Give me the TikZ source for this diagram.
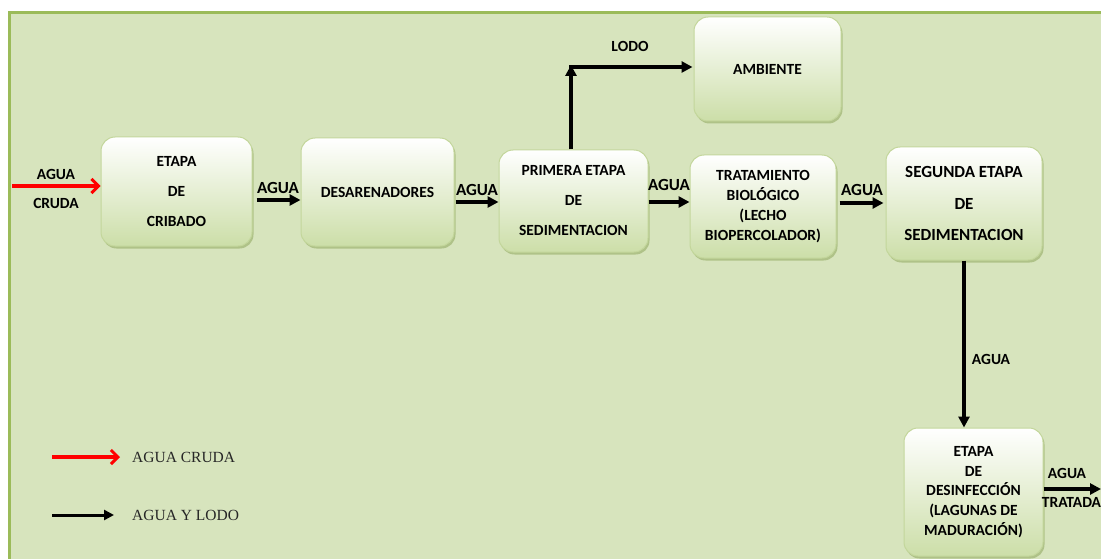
\documentclass[tikz,border=0pt]{standalone}
\usepackage{fontspec}
\setmainfont{Liberation Serif}
\newfontfamily\carlito{Carlito}
\usetikzlibrary{arrows.meta,shadows}
\definecolor{panelfill}{HTML}{D7E4BD}
\definecolor{panelborder}{HTML}{9BBB59}
\definecolor{boxborder}{HTML}{C3D69B}
\definecolor{boxbottom}{HTML}{CCDEA8}
\definecolor{shadowgreen}{HTML}{7F9A48}
\begin{document}
\begin{tikzpicture}[x=1pt,y=-1pt,
  box/.style={rounded corners=14pt, draw=boxborder, line width=1pt,
    top color=white, bottom color=boxbottom,
    drop shadow={shadow xshift=1.5pt, shadow yshift=-2.5pt, fill=shadowgreen, opacity=0.45},
    align=center, inner sep=0pt, text=black},
  bx30/.style={font=\carlito\bfseries\fontsize{15.5}{30}\selectfont},
  bx31/.style={font=\carlito\bfseries\fontsize{17}{31.5}\selectfont},
  bx20/.style={font=\carlito\bfseries\fontsize{15.5}{19.8}\selectfont},
  lbl/.style={font=\carlito\bfseries\fontsize{15.5}{18}\selectfont, inner sep=0pt, text=black},
  lblbig/.style={font=\carlito\bfseries\fontsize{17}{18}\selectfont, inner sep=0pt, text=black},
  legtxt/.style={font=\fontsize{15.5}{18}\selectfont, inner sep=0pt, anchor=west, text=black!85},
  arr/.style={line width=3.3pt, -{Triangle[length=11pt,width=11pt]}},
  redarr/.style={line width=3.3pt, red, -{Straight Barb[length=7pt,width=14pt,line width=3pt]}}
]
\useasboundingbox (0,0) rectangle (1101,559);
\fill[white] (0,0) rectangle (1101,559);
\draw[panelborder, line width=3pt, fill=panelfill] (9,13) rectangle (1115,575);

% boxes
\node[box, bx30, minimum width=151pt, minimum height=109pt] (crib) at (176.5,191.5) {ETAPA\\DE\\CRIBADO};
\node[box, bx30, minimum width=153pt, minimum height=108pt] (des) at (377.5,192) {DESARENADORES};
\node[box, bx30, minimum width=149pt, minimum height=102pt] (prim) at (573.5,201) {PRIMERA ETAPA\\DE\\SEDIMENTACION};
\node[box, bx30, minimum width=147pt, minimum height=104pt] (amb) at (767.5,69) {AMBIENTE};
\node[box, bx20, minimum width=146pt, minimum height=103pt] (trat) at (763,206.5) {TRATAMIENTO\\BIOLÓGICO\\(LECHO\\BIOPERCOLADOR)};
\node[box, bx31, minimum width=156pt, minimum height=113pt] (seg) at (964,203.5) {SEGUNDA ETAPA\\DE\\SEDIMENTACION};
\node[box, bx20, minimum width=139pt, minimum height=128pt] (desin) at (973.5,492) {ETAPA\\DE\\DESINFECCIÓN\\(LAGUNAS DE\\MADURACIÓN)};

% connectors
\coordinate (in) at (12,186);
\draw[redarr] (in) -- (in -| crib.west);
\draw[arr, shorten <=4pt] ([yshift=-8.5pt]crib.east) -- ([yshift=-8pt]des.west);
\draw[arr, shorten <=1pt] ([yshift=-10pt]des.east) -- ([yshift=-1pt]prim.west);
\draw[arr] ([yshift=-1pt]prim.east) -- ([yshift=4.5pt]trat.west);
\draw[arr, shorten <=3pt, shorten >=2pt] ([yshift=3.5pt]trat.east) -- ([yshift=0.5pt]seg.west);
\coordinate (corner) at ([xshift=-2.5pt]prim.north |- 0,67);
\draw[arr, shorten >=-2pt] ([xshift=-2.5pt]prim.north) -- (corner);
\draw[arr, shorten >=1pt] ([xshift=-1.6pt]corner) -- (corner -| amb.west);
\draw[arr] (seg.south) -- (seg.south |- desin.north);
\coordinate (out) at (1101,489);
\draw[arr] ([yshift=3pt]desin.east) -- (out);

% labels
\node[lbl] (l1a) at (56,174) {AGUA};
\node[lbl] (l1b) at (56,203) {CRUDA};
\node[lblbig] (l2) at (278,188) {AGUA};
\node[lblbig] (l3) at (477,190) {AGUA};
\node[lblbig] (l4) at (669,185) {AGUA};
\node[lblbig] (l5) at (862,190) {AGUA};
\node[lbl] (l6) at (630,46) {LODO};
\node[lbl] (l7) at (991,359) {AGUA};
\node[lbl] (l8a) at (1067,473) {AGUA};
\node[lbl] (l8b) at (1071.5,502) {TRATADA};

% legend
\coordinate (r1) at (52,457);
\coordinate (r2) at (120,457);
\draw[redarr] (r1) -- (r2);
\node[legtxt] (lg1) at (132,457) {AGUA CRUDA};
\coordinate (k1) at (52,515);
\coordinate (k2) at (114,515);
\draw[line width=3pt, -{Triangle[length=10pt,width=10pt]}] (k1) -- (k2);
\node[legtxt] (lg2) at (132,515) {AGUA Y LODO};
\end{tikzpicture}
\end{document}
